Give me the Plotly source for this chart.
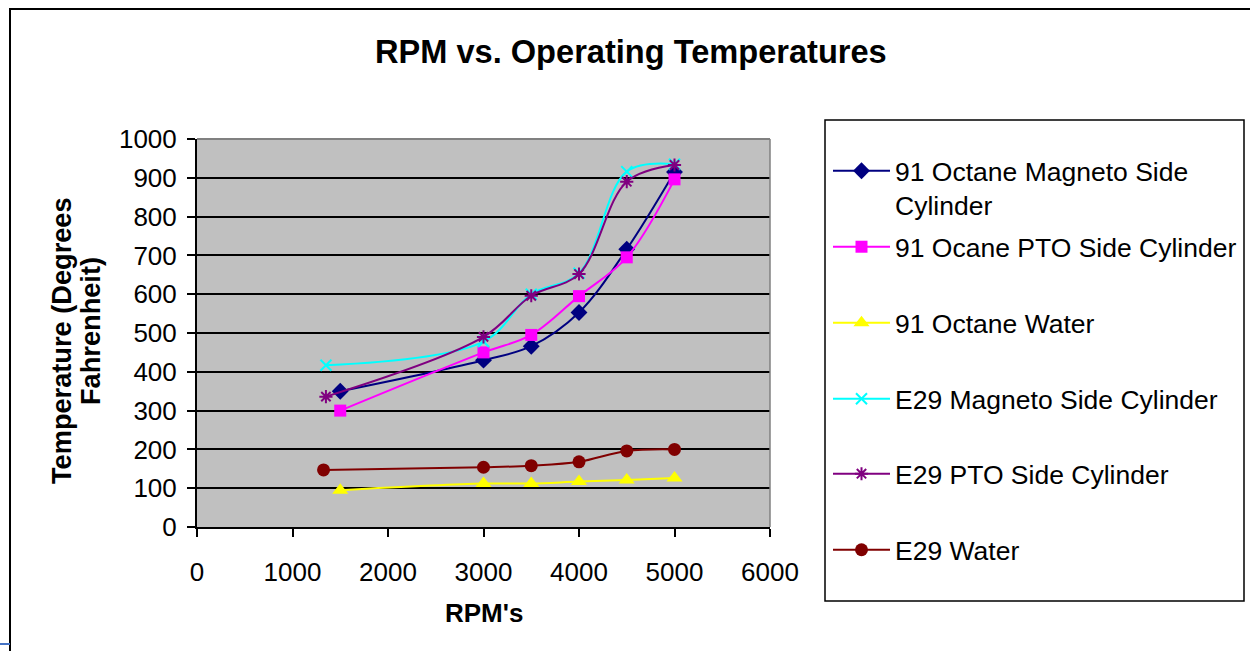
import plotly.graph_objects as go

# ---- data ----
rpm_91 = [1500, 3000, 3500, 4000, 4500, 5000]
rpm_e29 = [1350, 3000, 3500, 4000, 4500, 5000]
rpm_e29_water = [1325, 3000, 3500, 4000, 4500, 5000]

oct91_magneto = [350, 430, 466, 553, 716, 915]
oct91_pto = [300, 450, 495, 595, 695, 896]
oct91_water = [95, 112, 112, 117, 121, 126]
e29_magneto = [417, 478, 600, 654, 916, 935]
e29_pto = [336, 490, 596, 652, 890, 933]
e29_water = [147, 154, 158, 168, 196, 200]

series_names = [
    "91 Octane Magneto Side<br>Cylinder",
    "91 Ocane PTO Side Cylinder",
    "91 Octane Water",
    "E29 Magneto Side Cylinder",
    "E29 PTO Side Cylinder",
    "E29 Water",
]

x_ticks = [0, 1000, 2000, 3000, 4000, 5000, 6000]
y_ticks = [0, 100, 200, 300, 400, 500, 600, 700, 800, 900, 1000]

# ---- geometry helpers (pixel -> paper) ----
W, H = 1250, 651
L, R, T, B = 197, 770, 139, 527


def px_x(p):
    return (p - L) / (R - L)


def px_y(p):
    return (B - p) / (B - T)


FONT = "Liberation Sans, Arial, sans-serif"

styles = [
    dict(color="#000080", symbol="diamond", size=13, lw=0),
    dict(color="#FF00FF", symbol="square", size=12, lw=0),
    dict(color="#FFFF00", symbol="triangle-up", size=14, lw=0),
    dict(color="#00FFFF", symbol="x-thin-open", size=11, lw=2),
    dict(color="#800080", symbol="asterisk-open", size=11, lw=2),
    dict(color="#800000", symbol="circle", size=13, lw=0),
]

xs = [rpm_91, rpm_91, rpm_91, rpm_e29, rpm_e29, rpm_e29_water]
ys = [oct91_magneto, oct91_pto, oct91_water, e29_magneto, e29_pto, e29_water]
legend_ids = ["legend", "legend2", "legend3", "legend4", "legend5", "legend6"]
legend_centers = [172, 247, 323, 399, 474, 550]

fig = go.Figure()
for i in range(6):
    st = styles[i]
    marker = dict(color=st["color"], symbol=st["symbol"], size=st["size"])
    if st["lw"]:
        marker["line"] = dict(color=st["color"], width=st["lw"])
    fig.add_trace(go.Scatter(
        x=xs[i], y=ys[i], name=series_names[i],
        mode="lines+markers",
        line=dict(color=st["color"], width=2, shape="spline", smoothing=1.0),
        marker=marker,
        legend=legend_ids[i],
    ))

legend_common = dict(
    font=dict(family=FONT, size=26.5, color="black"),
    bgcolor="rgba(0,0,0,0)", borderwidth=0,
    itemwidth=57, xanchor="left", x=px_x(828),
)
layout_legends = {}
for i, lid in enumerate(legend_ids):
    d = dict(legend_common)
    if i == 0:
        d.update(yanchor="top", y=px_y(legend_centers[i] - 25), valign="top")
    else:
        d.update(yanchor="middle", y=px_y(legend_centers[i]))
    layout_legends[lid] = d

axis_common = dict(
    showline=True, linecolor="black", linewidth=2,
    ticks="outside", ticklen=8, tickwidth=1.5, tickcolor="black",
    tickfont=dict(family=FONT, size=26, color="black"),
    zeroline=False, automargin=False,
)

fig.update_layout(
    width=W, height=H,
    margin=dict(l=L, r=W - R, t=T, b=H - B, pad=0, autoexpand=False),
    paper_bgcolor="white",
    plot_bgcolor="#C0C0C0",
    showlegend=True,
    xaxis=dict(range=[0, 6000], tickvals=x_ticks, showgrid=False,
               ticklabelstandoff=13, **axis_common),
    yaxis=dict(range=[0, 1000], tickvals=y_ticks, showgrid=True,
               gridcolor="black", gridwidth=1.5, ticklabelstandoff=5,
               **axis_common),
    **layout_legends,
)

# titles
fig.add_annotation(text="<b>RPM vs. Operating Temperatures</b>", xref="paper", yref="paper",
                   x=px_x(631), y=px_y(52), showarrow=False,
                   font=dict(family=FONT, size=32.6, color="black"),
                   xanchor="center", yanchor="middle")
fig.add_annotation(text="<b>RPM's</b>", xref="paper", yref="paper",
                   x=px_x(484), y=px_y(613), showarrow=False,
                   font=dict(family=FONT, size=26, color="black"),
                   xanchor="center", yanchor="middle")
fig.add_annotation(text="<b>Temperature (Degrees</b>", xref="paper", yref="paper",
                   x=px_x(61), y=px_y(341), showarrow=False, textangle=-90,
                   font=dict(family=FONT, size=27.2, color="black"),
                   xanchor="center", yanchor="middle")
fig.add_annotation(text="<b>Fahrenheit)</b>", xref="paper", yref="paper",
                   x=px_x(90), y=px_y(331), showarrow=False, textangle=-90,
                   font=dict(family=FONT, size=27.2, color="black"),
                   xanchor="center", yanchor="middle")

# plot-area top/right border (gray)
fig.add_shape(type="line", xref="paper", yref="paper", x0=0, x1=1, y0=1, y1=1,
              line=dict(color="#808080", width=2))
fig.add_shape(type="line", xref="paper", yref="paper", x0=1, x1=1, y0=0, y1=1,
              line=dict(color="#808080", width=1.5))
# legend box
fig.add_shape(type="rect", xref="paper", yref="paper",
              x0=px_x(825), x1=px_x(1244), y0=px_y(601), y1=px_y(120),
              line=dict(color="black", width=1.5))
# outer chart border
fig.add_shape(type="rect", xref="paper", yref="paper",
              x0=px_x(10), x1=px_x(1262), y0=px_y(663), y1=px_y(9),
              line=dict(color="black", width=2))
# small blue mark bottom-left
fig.add_shape(type="line", xref="paper", yref="paper",
              x0=px_x(0), x1=px_x(10), y0=px_y(644), y1=px_y(644),
              line=dict(color="#4472C4", width=2))

fig.write_html("out.html")
